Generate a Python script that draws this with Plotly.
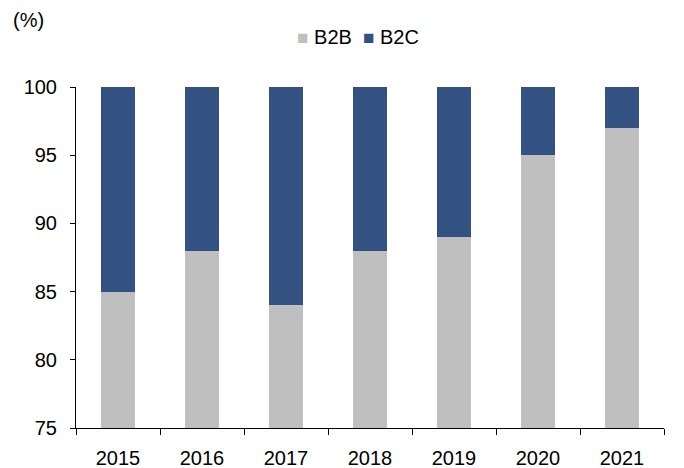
import plotly.graph_objects as go

years = ["2015", "2016", "2017", "2018", "2019", "2020", "2021"]
b2b = [85, 88, 84, 88, 89, 95, 97]
b2c = [15.1, 12, 16, 12, 11, 5, 3]
y_ticks = [75, 80, 85, 90, 95, 100]
series_names = ["B2B", "B2C"]
series_colors = ["#BFBFBF", "#335282"]

fig = go.Figure()
for name, vals, col in zip(series_names, [b2b, b2c], series_colors):
    fig.add_trace(go.Bar(x=years, y=vals, name=name, marker=dict(color=col, line=dict(width=0)),
                         width=0.4, cliponaxis=False, showlegend=False))

legend_text = " ".join(
    f"<span style='color:{c};font-size:19px'>■</span> {n} " for n, c in zip(series_names, series_colors)
)

fig.update_layout(
    barmode="stack",
    width=684, height=468,
    margin=dict(l=68, r=28, t=79, b=48, autoexpand=False),
    plot_bgcolor="white", paper_bgcolor="white",
    font=dict(family="Liberation Sans, Arial, sans-serif", size=20, color="black"),
    annotations=[
        dict(text="(%)", xref="paper", yref="paper", x=-0.11, y=1.197,
             xanchor="left", yanchor="middle", showarrow=False, font=dict(size=20)),
        dict(text=legend_text, xref="paper", yref="paper", x=(360 - 76) / 588, y=1.147,
             xanchor="center", yanchor="middle", showarrow=False, font=dict(size=20)),
    ],
)
fig.update_yaxes(range=[75, 100], tickvals=y_ticks, showgrid=False, zeroline=False,
                 showline=True, linecolor="black", linewidth=1, ticks="outside", ticklen=5,
                 tickcolor="black", ticklabelstandoff=9, automargin=False)
fig.update_xaxes(showgrid=False, showline=True, linecolor="black", linewidth=1,
                 ticks="outside", tickson="boundaries", ticklen=6, tickcolor="black",
                 ticklabelstandoff=12, automargin=False)

fig.write_html("out.html")
